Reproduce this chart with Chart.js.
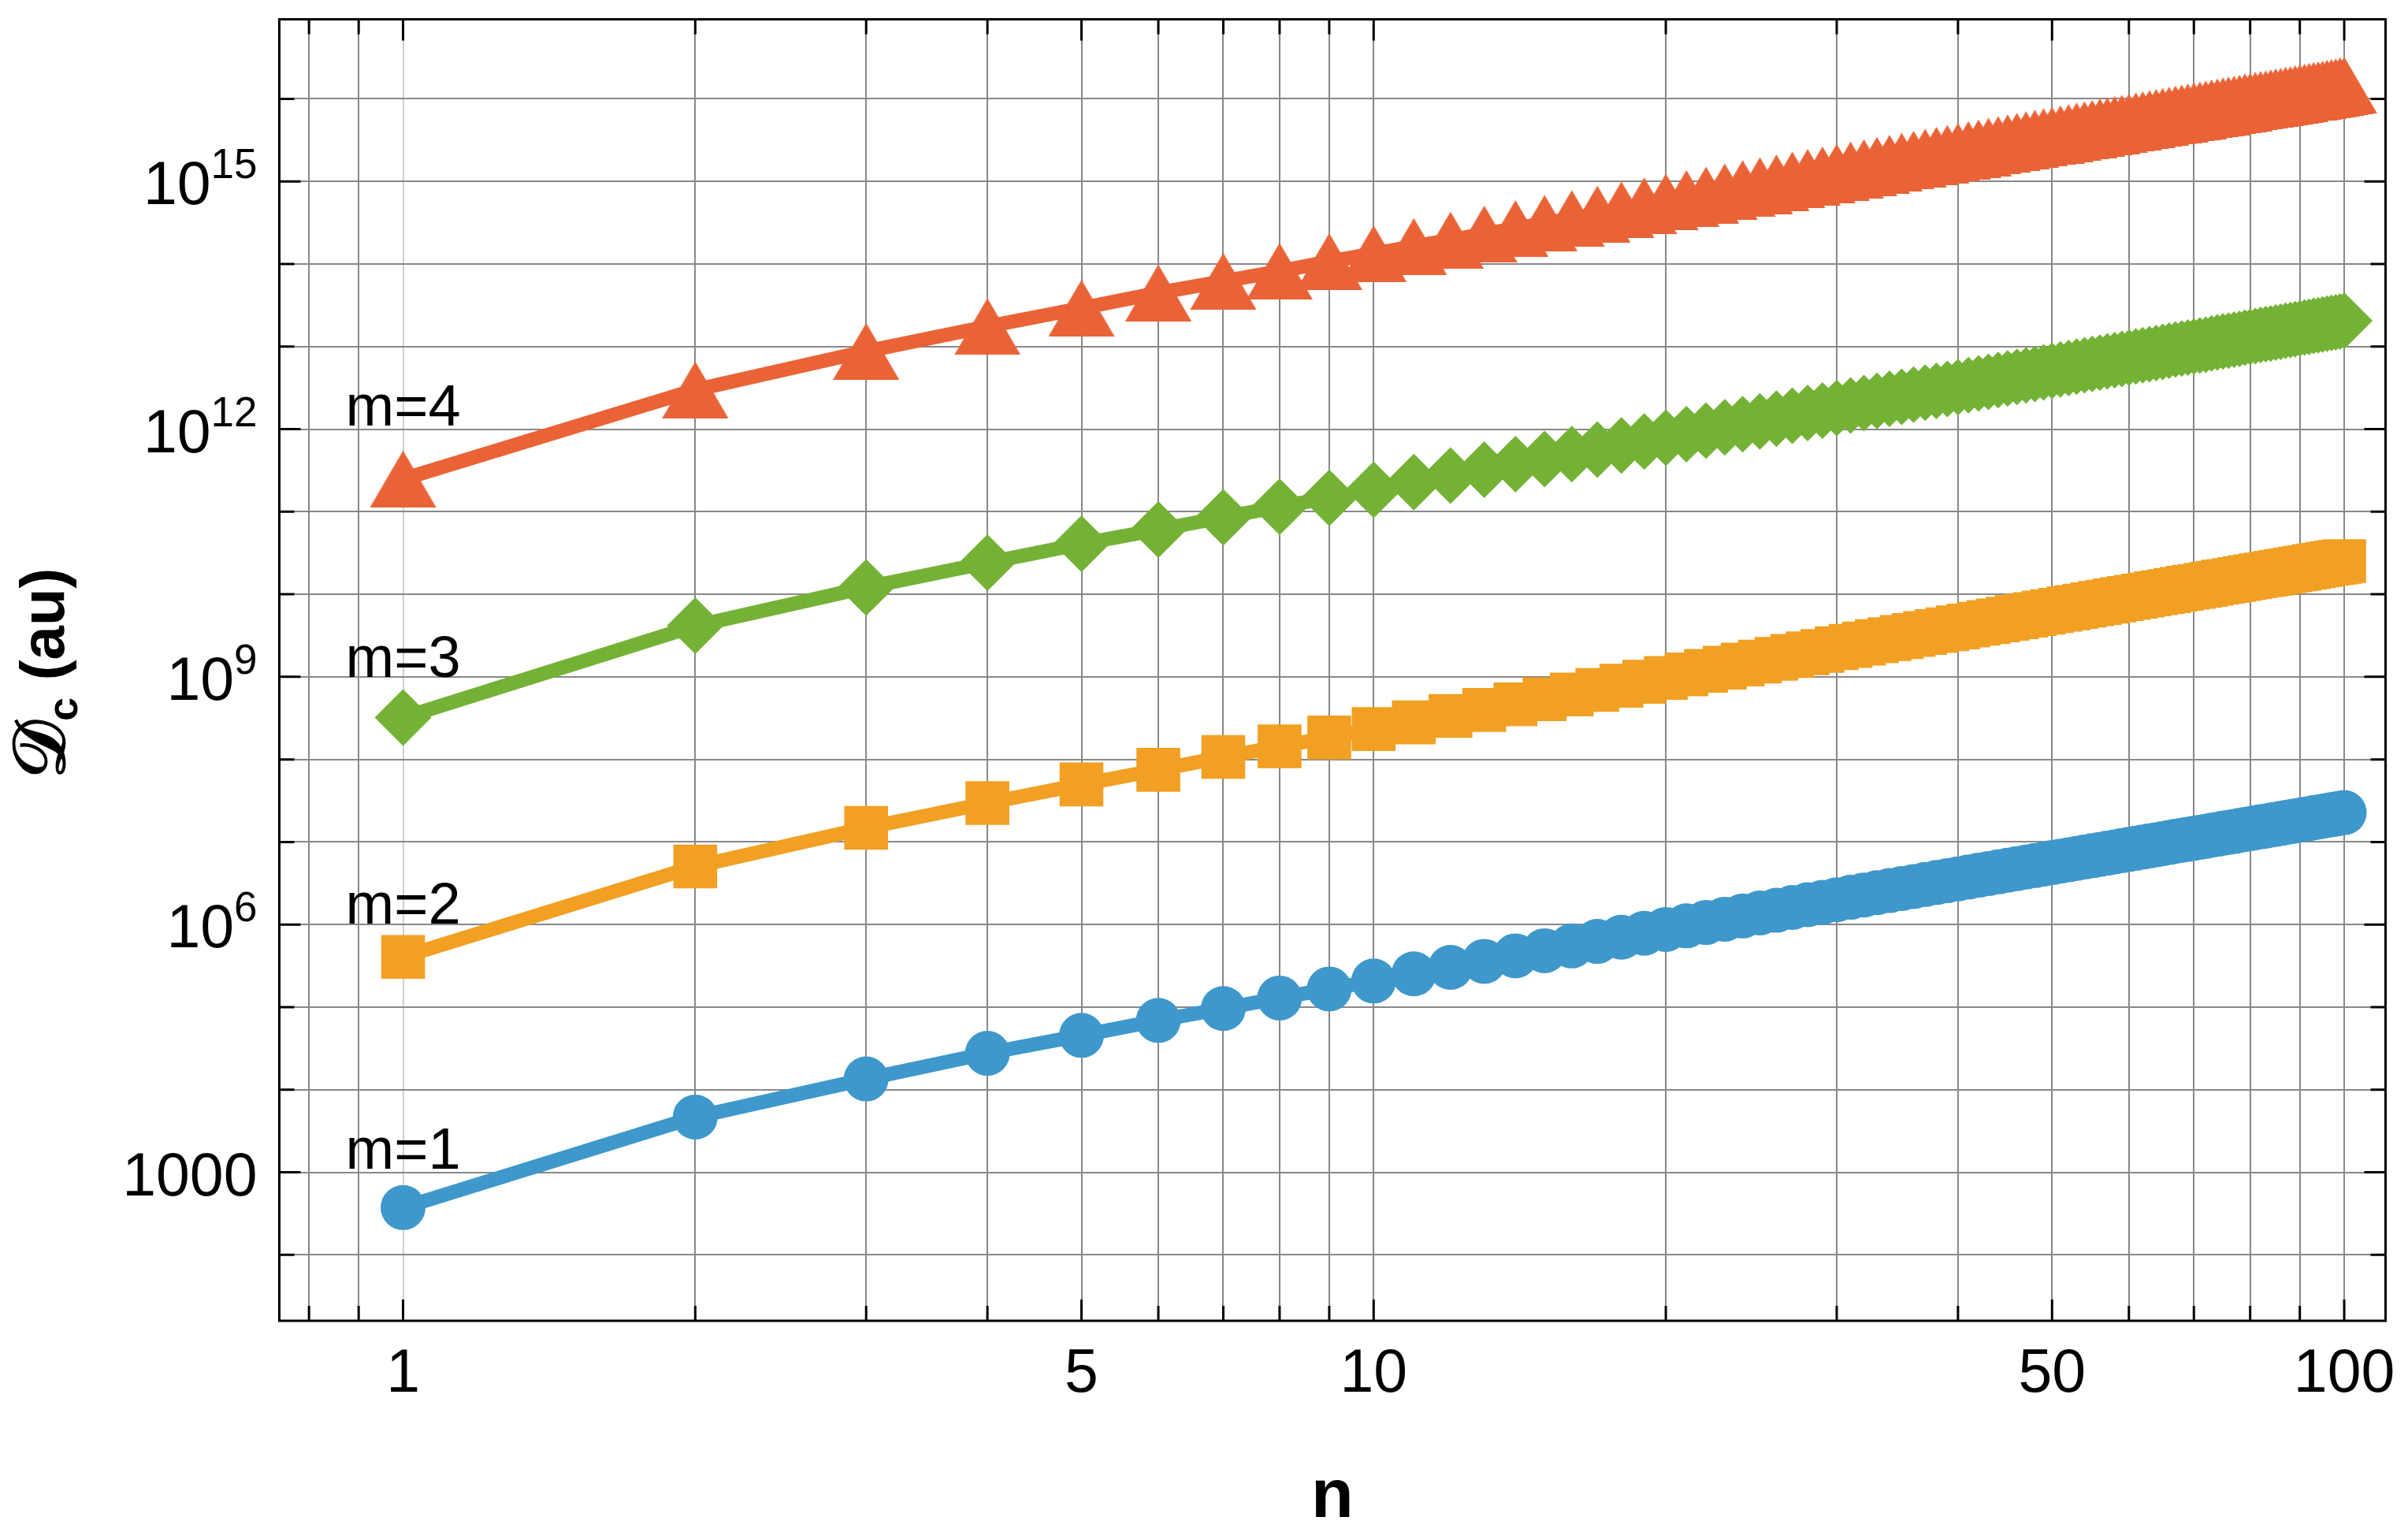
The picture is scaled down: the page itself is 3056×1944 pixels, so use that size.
<!DOCTYPE html>
<html>
<head>
<meta charset="utf-8">
<title>Dc vs n</title>
<script src="https://cdn.jsdelivr.net/npm/chart.js@4.4.1/dist/chart.umd.min.js"></script>
<style>
  html, body { margin: 0; padding: 0; background: #fff; }
  canvas { display: block; }
</style>
</head>
<body>
<canvas id="chart" width="3056" height="1944" style="width:3056px;height:1944px"></canvas>
<script>
// principal quantum number n = 1..100 (x categories)
const nValues = Array.from({ length: 100 }, (_, i) => i + 1);

// D_c (au), one list per m
const dcM1 = [
  374, 4.66e3, 1.35e4, 2.76e4, 4.55e4, 6.90e4, 9.62e4, 1.29e5, 1.66e5, 2.07e5,
  2.53e5, 3.03e5, 3.58e5, 4.18e5, 4.82e5, 5.51e5, 6.25e5, 7.03e5, 7.85e5, 8.73e5,
  9.64e5, 1.06e6, 1.16e6, 1.27e6, 1.38e6, 1.49e6, 1.61e6, 1.74e6, 1.86e6, 2.00e6,
  2.14e6, 2.28e6, 2.43e6, 2.58e6, 2.73e6, 2.89e6, 3.06e6, 3.23e6, 3.40e6, 3.58e6,
  3.77e6, 3.96e6, 4.15e6, 4.35e6, 4.55e6, 4.76e6, 4.97e6, 5.18e6, 5.40e6, 5.63e6,
  5.86e6, 6.09e6, 6.33e6, 6.57e6, 6.82e6, 7.08e6, 7.33e6, 7.59e6, 7.86e6, 8.13e6,
  8.41e6, 8.69e6, 8.97e6, 9.26e6, 9.56e6, 9.86e6, 1.02e7, 1.05e7, 1.08e7, 1.11e7,
  1.14e7, 1.17e7, 1.21e7, 1.24e7, 1.28e7, 1.31e7, 1.34e7, 1.38e7, 1.42e7, 1.45e7,
  1.49e7, 1.53e7, 1.56e7, 1.60e7, 1.64e7, 1.68e7, 1.72e7, 1.76e7, 1.80e7, 1.84e7,
  1.88e7, 1.92e7, 1.97e7, 2.01e7, 2.05e7, 2.10e7, 2.14e7, 2.18e7, 2.23e7, 2.27e7
];
const dcM2 = [
  4.06e5, 5.05e6, 1.48e7, 2.96e7, 4.98e7, 7.48e7, 1.07e8, 1.44e8, 1.84e8, 2.33e8,
  2.81e8, 3.36e8, 3.97e8, 4.64e8, 5.35e8, 6.11e8, 6.93e8, 7.80e8, 8.71e8, 9.68e8,
  1.07e9, 1.18e9, 1.29e9, 1.41e9, 1.53e9, 1.65e9, 1.79e9, 1.93e9, 2.06e9, 2.22e9,
  2.37e9, 2.53e9, 2.70e9, 2.86e9, 3.03e9, 3.21e9, 3.39e9, 3.58e9, 3.77e9, 3.97e9,
  4.18e9, 4.39e9, 4.60e9, 4.83e9, 5.05e9, 5.28e9, 5.51e9, 5.75e9, 5.99e9, 6.24e9,
  6.50e9, 6.76e9, 7.02e9, 7.29e9, 7.56e9, 7.85e9, 8.13e9, 8.42e9, 8.72e9, 9.02e9,
  9.33e9, 9.64e9, 9.95e9, 1.03e10, 1.06e10, 1.09e10, 1.13e10, 1.16e10, 1.20e10, 1.23e10,
  1.26e10, 1.30e10, 1.34e10, 1.38e10, 1.42e10, 1.45e10, 1.49e10, 1.53e10, 1.57e10, 1.61e10,
  1.65e10, 1.70e10, 1.73e10, 1.77e10, 1.82e10, 1.86e10, 1.91e10, 1.95e10, 2.00e10, 2.04e10,
  2.09e10, 2.13e10, 2.19e10, 2.23e10, 2.27e10, 2.33e10, 2.37e10, 2.42e10, 2.47e10, 2.52e10
];
const dcM3 = [
  3.21e8, 4.15e9, 1.21e10, 2.41e10, 4.08e10, 6.07e10, 8.53e10, 1.15e11, 1.47e11, 1.84e11,
  2.28e11, 2.73e11, 3.23e11, 3.77e11, 4.35e11, 4.97e11, 5.64e11, 6.34e11, 7.08e11, 7.87e11,
  8.69e11, 9.56e11, 1.05e12, 1.15e12, 1.24e12, 1.34e12, 1.45e12, 1.57e12, 1.68e12, 1.80e12,
  1.93e12, 2.06e12, 2.19e12, 2.33e12, 2.46e12, 2.61e12, 2.76e12, 2.91e12, 3.07e12, 3.23e12,
  3.40e12, 3.57e12, 3.74e12, 3.92e12, 4.10e12, 4.29e12, 4.48e12, 4.67e12, 4.87e12, 5.08e12,
  5.28e12, 5.49e12, 5.71e12, 5.92e12, 6.15e12, 6.38e12, 6.61e12, 6.84e12, 7.09e12, 7.33e12,
  7.58e12, 7.83e12, 8.09e12, 8.35e12, 8.62e12, 8.89e12, 9.20e12, 9.47e12, 9.74e12, 1.00e13,
  1.03e13, 1.05e13, 1.09e13, 1.12e13, 1.15e13, 1.18e13, 1.21e13, 1.24e13, 1.28e13, 1.31e13,
  1.34e13, 1.38e13, 1.41e13, 1.44e13, 1.48e13, 1.51e13, 1.55e13, 1.59e13, 1.62e13, 1.66e13,
  1.70e13, 1.73e13, 1.78e13, 1.81e13, 1.85e13, 1.89e13, 1.93e13, 1.97e13, 2.01e13, 2.05e13
];
const dcM4 = [
  2.49e11, 2.99e12, 8.75e12, 1.75e13, 2.92e13, 4.47e13, 6.17e13, 8.18e13, 1.07e14, 1.33e14,
  1.63e14, 1.95e14, 2.31e14, 2.69e14, 3.11e14, 3.55e14, 4.03e14, 4.53e14, 5.06e14, 5.62e14,
  6.21e14, 6.83e14, 7.47e14, 8.18e14, 8.89e14, 9.60e14, 1.04e15, 1.12e15, 1.20e15, 1.29e15,
  1.38e15, 1.47e15, 1.57e15, 1.66e15, 1.76e15, 1.86e15, 1.97e15, 2.08e15, 2.19e15, 2.31e15,
  2.43e15, 2.55e15, 2.67e15, 2.80e15, 2.93e15, 3.07e15, 3.20e15, 3.34e15, 3.48e15, 3.63e15,
  3.78e15, 3.92e15, 4.08e15, 4.23e15, 4.39e15, 4.56e15, 4.72e15, 4.89e15, 5.06e15, 5.24e15,
  5.42e15, 5.60e15, 5.78e15, 5.97e15, 6.16e15, 6.35e15, 6.57e15, 6.76e15, 6.96e15, 7.15e15,
  7.34e15, 7.54e15, 7.79e15, 7.99e15, 8.25e15, 8.44e15, 8.63e15, 8.89e15, 9.15e15, 9.34e15,
  9.60e15, 9.86e15, 1.00e16, 1.03e16, 1.06e16, 1.08e16, 1.11e16, 1.13e16, 1.16e16, 1.19e16,
  1.21e16, 1.24e16, 1.27e16, 1.29e16, 1.32e16, 1.35e16, 1.38e16, 1.40e16, 1.44e16, 1.46e16
];

// curve labels and where they sit (D_c value at n = 1)
const seriesNames = ['m=1', 'm=2', 'm=3', 'm=4'];
const seriesLabelAt = [1.98e3, 1.84e6, 1.79e9, 1.96e12];

// axis ticks
const xTicks = [0.8, 0.9, 1, 2, 3, 4, 5, 6, 7, 8, 9, 10, 20, 30, 40, 50, 60, 70, 80, 90, 100];
const xLabelled = [1, 5, 10, 50, 100];
const yTicks = [1e2, 1e3, 1e4, 1e5, 1e6, 1e7, 1e8, 1e9, 1e10, 1e11, 1e12, 1e13, 1e14, 1e15, 1e16];
const yLabelled = [1e3, 1e6, 1e9, 1e12, 1e15];
const yLabelBase = ['1000', '10', '10', '10', '10'];
const yLabelExp = ['', '6', '9', '12', '15'];

const FONT = "'Liberation Sans', Arial, Helvetica, sans-serif";
const colors = ['#3E98CB', '#F1A023', '#74B236', '#EA6336'];

// triangle marker centred on its bounding box (like the original plot)
function triangleMarker(color) {
    const c = document.createElement('canvas');
    c.width = 84;
    c.height = 72;
    const g = c.getContext('2d');
    g.fillStyle = color;
    g.beginPath();
    g.moveTo(42, 0);
    g.lineTo(84, 72);
    g.lineTo(0, 72);
    g.closePath();
    g.fill();
    return c;
}

function makeSet(values, color, style, radius) {
    return {
        data: values.map((v, i) => ({ x: nValues[i], y: v })),
        borderColor: color,
        backgroundColor: color,
        borderWidth: 18,
        tension: 0,
        pointStyle: style,
        pointRadius: radius,
        pointBackgroundColor: color,
        pointBorderColor: color,
        pointBorderWidth: 0
    };
}

const decorations = {
    id: 'decorations',
    afterDraw(chart) {
        const { ctx, chartArea: a, scales: { x, y } } = chart;
        ctx.save();

        // frame and inward ticks on all four sides
        ctx.strokeStyle = '#000';
        ctx.lineWidth = 3;
        ctx.strokeRect(a.left, a.top, a.right - a.left, a.bottom - a.top);
        ctx.beginPath();
        xTicks.forEach(v => {
            const px = x.getPixelForValue(v);
            const len = xLabelled.includes(v) ? 27 : 19;
            ctx.moveTo(px, a.bottom); ctx.lineTo(px, a.bottom - len);
            ctx.moveTo(px, a.top); ctx.lineTo(px, a.top + len);
        });
        yTicks.forEach(v => {
            const py = y.getPixelForValue(v);
            const len = yLabelled.includes(v) ? 27 : 19;
            ctx.moveTo(a.left, py); ctx.lineTo(a.left + len, py);
            ctx.moveTo(a.right, py); ctx.lineTo(a.right - len, py);
        });
        ctx.stroke();

        // y tick labels with raised exponents
        ctx.fillStyle = '#000';
        ctx.textBaseline = 'alphabetic';
        const right = a.left - 28;
        yLabelled.forEach((v, i) => {
            const py = y.getPixelForValue(v);
            ctx.font = `53px ${FONT}`;
            const ew = ctx.measureText(yLabelExp[i]).width;
            if (yLabelExp[i]) {
                ctx.textAlign = 'right';
                ctx.fillText(yLabelExp[i], right, py - 4);
            }
            ctx.font = `77px ${FONT}`;
            ctx.textAlign = 'right';
            ctx.fillText(yLabelBase[i], right - ew, py + 29);
        });

        // curve labels
        ctx.font = `74px ${FONT}`;
        ctx.textAlign = 'center';
        seriesNames.forEach((name, i) => {
            ctx.fillText(name, x.getPixelForValue(1), y.getPixelForValue(seriesLabelAt[i]) + 26.5);
        });

        // x title
        ctx.font = `bold 88px ${FONT}`;
        ctx.textAlign = 'center';
        ctx.fillText('n', (a.left + a.right) / 2, 1925);

        // y title: D_c (au), rotated
        ctx.translate(81, (a.top + a.bottom) / 2);
        ctx.rotate(-Math.PI / 2);
        const parts = [
            { text: '\u{1D49F}', font: `bold 92px ${FONT}`, dy: 0 },
            { text: 'c', font: `bold 54px ${FONT}`, dy: 17 },
            { text: ' (au)', font: `bold 78px ${FONT}`, dy: 0 }
        ];
        let total = 0;
        parts.forEach(p => { ctx.font = p.font; p.w = ctx.measureText(p.text).width; total += p.w; });
        let cx = -total / 2 - 4;
        ctx.textAlign = 'left';
        parts.forEach(p => {
            ctx.font = p.font;
            ctx.fillText(p.text, cx, p.dy);
            cx += p.w;
        });
        ctx.restore();
    }
};

const ctx = document.getElementById('chart').getContext('2d');
const chart = new Chart(ctx, {
    type: 'line',
    data: {
        datasets: [
            makeSet(dcM1, colors[0], 'circle', 28.5),
            makeSet(dcM2, colors[1], 'rect', 39.3),
            makeSet(dcM3, colors[2], 'rectRot', 36),
            makeSet(dcM4, colors[3], triangleMarker(colors[3]), 42)
        ]
    },
    options: {
        responsive: false,
        animation: false,
        devicePixelRatio: 1,
        layout: { autoPadding: false, padding: { top: 24.5, right: 28.5, left: 0, bottom: 0 } },
        plugins: { legend: { display: false }, tooltip: { enabled: false } },
        scales: {
            x: {
                type: 'logarithmic',
                bounds: 'data',
                min: 0.7456,
                max: 110.3,
                afterBuildTicks: axis => { axis.ticks = xTicks.map(v => ({ value: v })); },
                afterFit: axis => {
                    axis.height = 268;
                    axis.paddingLeft = 0;
                    axis.paddingRight = 0;
                },
                ticks: {
                    autoSkip: false,
                    maxRotation: 0,
                    padding: 23,
                    color: '#000',
                    font: { family: FONT, size: 77 },
                    callback: v => (xLabelled.includes(v) ? String(v) : '')
                },
                grid: {
                    drawTicks: false,
                    lineWidth: 2,
                    color: c => (c.tick && c.tick.value === 1 ? '#cfcfcf' : '#888888')
                },
                border: { display: false }
            },
            y: {
                type: 'logarithmic',
                bounds: 'data',
                min: 15.9,
                max: 9.18e16,
                afterBuildTicks: axis => { axis.ticks = yTicks.map(v => ({ value: v })); },
                afterFit: axis => {
                    axis.width = 354.5;
                    axis.paddingTop = 0;
                    axis.paddingBottom = 0;
                },
                ticks: { display: false },
                grid: { drawTicks: false, lineWidth: 2, color: '#888888' },
                border: { display: false }
            }
        }
    },
    plugins: [decorations]
});
</script>
</body>
</html>
